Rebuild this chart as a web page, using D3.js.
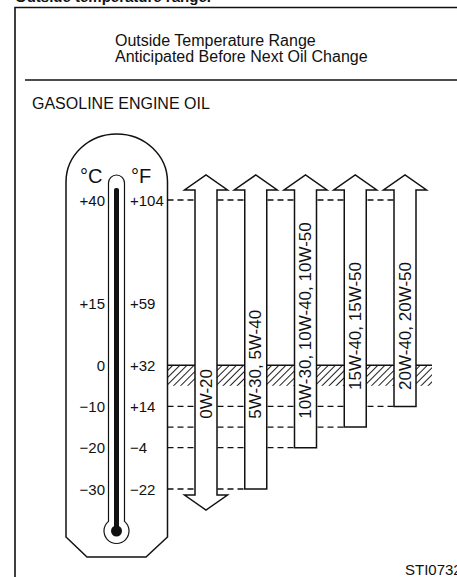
<!DOCTYPE html>
<html>
<head>
<meta charset="utf-8">
<script src="https://cdn.jsdelivr.net/npm/d3@7/dist/d3.min.js"></script>
<style>
  html, body { margin: 0; padding: 0; background: #fff; overflow: hidden; }
  svg { display: block; font-family: "Liberation Sans", Arial, Helvetica, sans-serif; }
</style>
</head>
<body>
<svg id="chart" width="457" height="577"></svg>
<script>
// Thermometer scale: Celsius tick values and their Fahrenheit labels
const celsiusTicks = [40, 15, 0, -10, -20, -30];
const celsiusLabels = ["+40", "+15", "0", "\u221210", "\u221220", "\u221230"];
const fahrenheitLabels = ["+104", "+59", "+32", "+14", "\u22124", "\u221222"];

// Oil grades and the temperature range (°C) each one covers
const grades = ["0W-20", "5W-30, 5W-40", "10W-30, 10W-40, 10W-50", "15W-40, 15W-50", "20W-40, 20W-50"];
const lowC = [-30, -30, -20, -15, -10];
const highC = [40, 40, 40, 40, 40];
const extendsBelow = [true, false, false, false, false];
const extendsAbove = [true, true, true, true, true];

// Freezing band (hatched) in °C
const hatchBand = [0, -5];

// Where each rotated grade label ends (°C), layout only
const labelEndC = [-13, -13, -13, -6, -6];

const svg = d3.select("#chart");
const ink = "#111";

const y = d3.scaleLinear().domain([-30, 40]).range([489, 200]);
const x = d3.scalePoint().domain(grades).range([206, 405]);

const thermoLeft = 66, thermoRight = 167.5;
const shaftHalf = 11, headHalf = 21.5, headH = 15;

// Title (partially cut at top), frame and header
svg.append("text").attr("x", 15).attr("y", 1.5)
  .attr("font-size", 15).attr("font-weight", "bold").attr("fill", ink)
  .text("Outside temperature range.");

svg.append("path")
  .attr("d", "M15,577 L15,7.5 L457,7.5")
  .attr("fill", "none").attr("stroke", ink).attr("stroke-width", 1.6);

svg.append("text").attr("x", 115).attr("y", 46).attr("font-size", 16).attr("fill", ink)
  .text("Outside Temperature Range");
svg.append("text").attr("x", 115).attr("y", 62).attr("font-size", 16).attr("fill", ink)
  .text("Anticipated Before Next Oil Change");

svg.append("line").attr("x1", 25).attr("x2", 457).attr("y1", 80).attr("y2", 80)
  .attr("stroke", ink).attr("stroke-width", 1.4);

svg.append("text").attr("x", 32).attr("y", 109).attr("font-size", 16).attr("fill", ink)
  .text("GASOLINE ENGINE OIL");

// Hatched freezing band
const defs = svg.append("defs");
const pat = defs.append("pattern").attr("id", "hatch")
  .attr("patternUnits", "userSpaceOnUse").attr("width", 5).attr("height", 5)
  .attr("patternTransform", "rotate(45)");
pat.append("line").attr("x1", 0).attr("x2", 0).attr("y1", 0).attr("y2", 5)
  .attr("stroke", ink).attr("stroke-width", 1.9);

const bandRight = 432;
svg.append("rect")
  .attr("x", thermoRight).attr("y", y(hatchBand[0]))
  .attr("width", bandRight - thermoRight).attr("height", y(hatchBand[1]) - y(hatchBand[0]))
  .attr("fill", "url(#hatch)");
svg.append("line")
  .attr("x1", thermoRight).attr("x2", bandRight)
  .attr("y1", y(hatchBand[0])).attr("y2", y(hatchBand[0]))
  .attr("stroke", ink).attr("stroke-width", 1.5);

// Dashed guide lines at each range limit, running to the last arrow that stops there
const levels = Array.from(new Set(highC.concat(lowC.filter((d, i) => !extendsBelow[i]))));
levels.forEach(level => {
  let lastIdx = -1;
  grades.forEach((g, i) => {
    if ((highC[i] === level) || (lowC[i] === level && !extendsBelow[i])) lastIdx = i;
  });
  if (lastIdx < 0) return;
  svg.append("line")
    .attr("x1", thermoRight).attr("x2", x(grades[lastIdx]) - shaftHalf)
    .attr("y1", y(level)).attr("y2", y(level))
    .attr("stroke", ink).attr("stroke-width", 1.3)
    .attr("stroke-dasharray", "6,4");
});

// Range arrows
grades.forEach((g, i) => {
  const cx = x(g);
  const top = y(highC[i]) - 10;
  const bottom = extendsBelow[i] ? y(lowC[i]) + 6 : y(lowC[i]);
  const p = d3.path();
  p.moveTo(cx - shaftHalf, bottom);
  if (extendsBelow[i]) {
    p.lineTo(cx - headHalf, bottom);
    p.lineTo(cx, bottom + headH);
    p.lineTo(cx + headHalf, bottom);
    p.lineTo(cx + shaftHalf, bottom);
  } else {
    p.lineTo(cx + shaftHalf, bottom);
  }
  p.lineTo(cx + shaftHalf, top);
  if (extendsAbove[i]) {
    p.lineTo(cx + headHalf, top);
    p.lineTo(cx, top - headH);
    p.lineTo(cx - headHalf, top);
  }
  p.lineTo(cx - shaftHalf, top);
  p.closePath();
  svg.append("path").attr("d", p.toString())
    .attr("fill", "#fff").attr("stroke", ink).attr("stroke-width", 1.5)
    .attr("stroke-linejoin", "miter");

  svg.append("text")
    .attr("transform", `translate(${cx},${y(labelEndC[i])}) rotate(-90)`)
    .attr("text-anchor", "start").attr("dominant-baseline", "central")
    .attr("font-size", 17).attr("fill", ink)
    .text(g);
});

// Thermometer body
const tY = 182;
svg.append("path")
  .attr("d", `M${thermoLeft},537 L${thermoLeft},${tY} A${(thermoRight - thermoLeft) / 2},48 0 0 1 ${thermoRight},${tY} L${thermoRight},537 L146,557 L87,557 Z`)
  .attr("fill", "#fff").attr("stroke", ink).attr("stroke-width", 1.5);

// Glass tube and bulb
const tubeX = 116.5, tubeHalf = 8, bulbY = 531, bulbR = 12.5;
const tubeJoin = bulbY - Math.sqrt(bulbR * bulbR - tubeHalf * tubeHalf);
svg.append("path")
  .attr("d", `M${tubeX - tubeHalf},${tubeJoin} L${tubeX - tubeHalf},183 A${tubeHalf},${tubeHalf} 0 0 1 ${tubeX + tubeHalf},183 L${tubeX + tubeHalf},${tubeJoin} A${bulbR},${bulbR} 0 1 1 ${tubeX - tubeHalf},${tubeJoin} Z`)
  .attr("fill", "#fff").attr("stroke", ink).attr("stroke-width", 1.2);

// Mercury column
svg.append("rect").attr("x", tubeX - 2.5).attr("y", 188).attr("width", 5).attr("height", bulbY - 188)
  .attr("rx", 2).attr("fill", ink);
svg.append("circle").attr("cx", tubeX).attr("cy", bulbY).attr("r", 5.5).attr("fill", ink);

// Unit labels
svg.append("text").attr("x", 80).attr("y", 183).attr("font-size", 20).attr("fill", ink).text("\u00b0C");
svg.append("text").attr("x", 131).attr("y", 183).attr("font-size", 20).attr("fill", ink).text("\u00b0F");

// Tick labels
svg.append("g").selectAll("text").data(celsiusTicks).join("text")
  .attr("x", 105).attr("y", d => y(d))
  .attr("text-anchor", "end").attr("dominant-baseline", "central")
  .attr("font-size", 15).attr("fill", ink)
  .text((d, i) => celsiusLabels[i]);
svg.append("g").selectAll("text").data(celsiusTicks).join("text")
  .attr("x", 130).attr("y", d => y(d))
  .attr("text-anchor", "start").attr("dominant-baseline", "central")
  .attr("font-size", 15).attr("fill", ink)
  .text((d, i) => fahrenheitLabels[i]);

// Figure reference code
svg.append("text").attr("x", 405).attr("y", 575).attr("font-size", 15).attr("fill", ink).text("STI0732");
</script>
</body>
</html>
